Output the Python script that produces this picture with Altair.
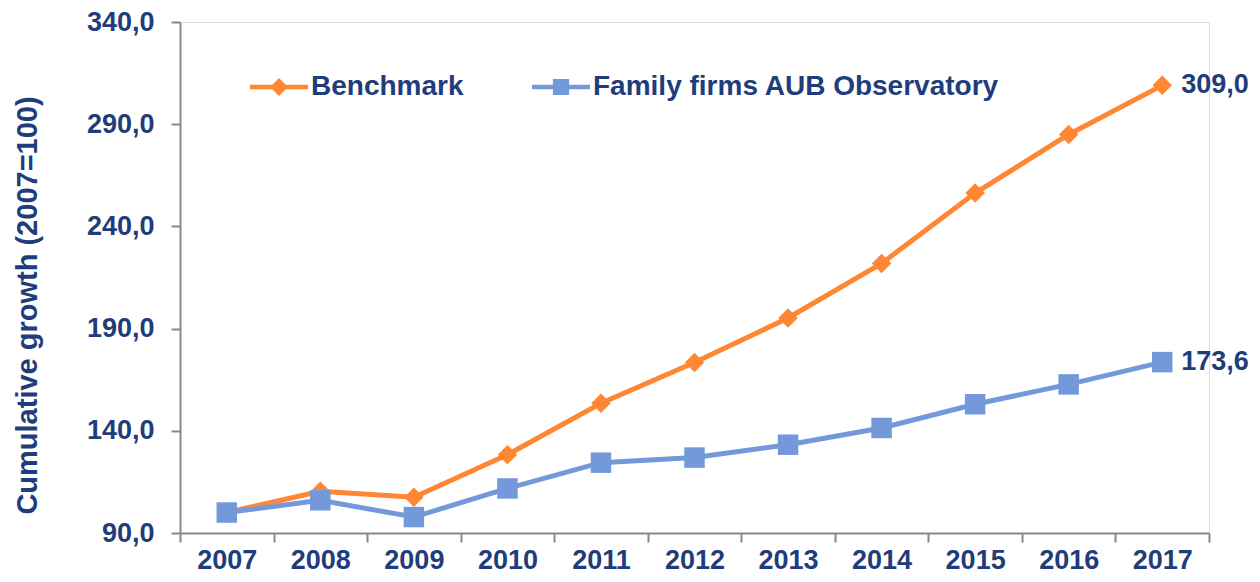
import altair as alt
import pandas as pd

years = [str(y) for y in range(2007, 2018)]
benchmark = [100.0, 110.4, 107.5, 128.3, 153.5, 173.4, 195.2, 221.9, 256.3, 285.0, 309.0]
family = [100.0, 106.0, 97.8, 111.8, 124.4, 126.9, 133.2, 141.4, 153.0, 162.7, 173.6]
series_names = ["Benchmark", "Family firms AUB Observatory"]
colors = ["#FF8633", "#7399DB"]
y_ticks = [90, 140, 190, 240, 290, 340]

rows = []
for i, yr in enumerate(years):
    rows.append({"year": yr, "series": series_names[0], "value": benchmark[i], "ord": 0})
    rows.append({"year": yr, "series": series_names[1], "value": family[i], "ord": 1})
df = pd.DataFrame(rows)

TEXT = "#1F3D7A"
GRAY = "#888888"
FONT = "Liberation Sans"

PLOT_TOP = 14   # svg-relative top padding
PLOT_H = 511

# legend glyphs: line segment + marker
diamond_path = ("M-1,-0.08 L1,-0.08 L1,0.08 L-1,0.08 Z "
                "M0,-0.31 L0.31,0 L0,0.31 L-0.31,0 Z")
square_path = ("M-1,-0.08 L1,-0.08 L1,0.08 L-1,0.08 Z "
               "M-0.28,-0.28 L0.28,-0.28 L0.28,0.28 L-0.28,0.28 Z")

legend = alt.Legend(
    orient="none", legendX=70, legendY=36, direction="horizontal", title=None,
    symbolSize=3364, labelFont=FONT, labelFontSize=28, labelFontWeight="bold",
    labelColor=TEXT, columnPadding=68, labelOffset=3, symbolStrokeWidth=0,
    symbolOpacity=1, padding=0, labelLimit=800,
)

cscale = alt.Scale(domain=series_names, range=colors)

x = alt.X("year:O", title=None,
          scale=alt.Scale(type="band", paddingInner=0, paddingOuter=0),
          axis=alt.Axis(labelAngle=0, tickBand="extent", tickSize=9, tickWidth=2, tickColor=GRAY,
                        domainColor=GRAY, domainWidth=2, labelPadding=5, labelFont=FONT,
                        labelFontSize=27, labelFontWeight="bold", labelColor=TEXT, grid=False))
y = alt.Y("value:Q", title="Cumulative growth (2007=100)",
          scale=alt.Scale(domain=[90, 340], nice=False, zero=False),
          axis=alt.Axis(values=y_ticks, labelExpr="replace(format(datum.value, '.1f'), '.', ',')",
                        tickSize=9, tickWidth=2, tickColor=GRAY, domainColor=GRAY, domainWidth=2,
                        labelPadding=17, labelFont=FONT, labelFontSize=27, labelFontWeight="bold",
                        labelColor=TEXT, titleFont=FONT, titleFontSize=29, titleFontWeight="bold",
                        titleColor=TEXT, titleX=-138, titleY=283, titleAlign="center",
                        titleBaseline="bottom", titleAngle=270, grid=False))

base = alt.Chart(df).encode(x=x, y=y)
nolegend = alt.Color("series:N", scale=cscale, legend=None)

legend_layer = base.transform_filter("false").mark_point(filled=True, opacity=1).encode(
    color=alt.Color("series:N", scale=cscale, legend=legend),
    shape=alt.Shape("series:N", scale=alt.Scale(domain=series_names, range=[diamond_path, square_path]),
                    legend=legend),
)

lines = base.mark_line(strokeWidth=5).encode(color=nolegend, detail="series:N")
pts_bench = base.transform_filter(alt.datum.series == series_names[0]).mark_point(
    filled=True, opacity=1, shape="diamond", size=380).encode(color=nolegend)
pts_fam = base.transform_filter(alt.datum.series == series_names[1]).mark_point(
    filled=True, opacity=1, shape="square", size=420).encode(color=nolegend)

labels = base.transform_filter(alt.datum.year == years[-1]).transform_calculate(
    lab="replace(format(datum.value, '.1f'), '.', ',')"
).mark_text(align="left", baseline="middle", dx=19, font=FONT, fontSize=27,
            fontWeight="bold", color=TEXT).encode(text="lab:N")

chart = alt.layer(legend_layer, lines, pts_bench, pts_fam, labels).properties(
    width=1029, height=PLOT_H,
    padding={"left": 172, "top": PLOT_TOP, "right": 43, "bottom": 41},
    autosize=alt.AutoSizeParams(type="none"),
).configure_view(stroke=None).configure(background="white")

chart.save("out.html", embed_options={"renderer": "svg", "actions": False})
